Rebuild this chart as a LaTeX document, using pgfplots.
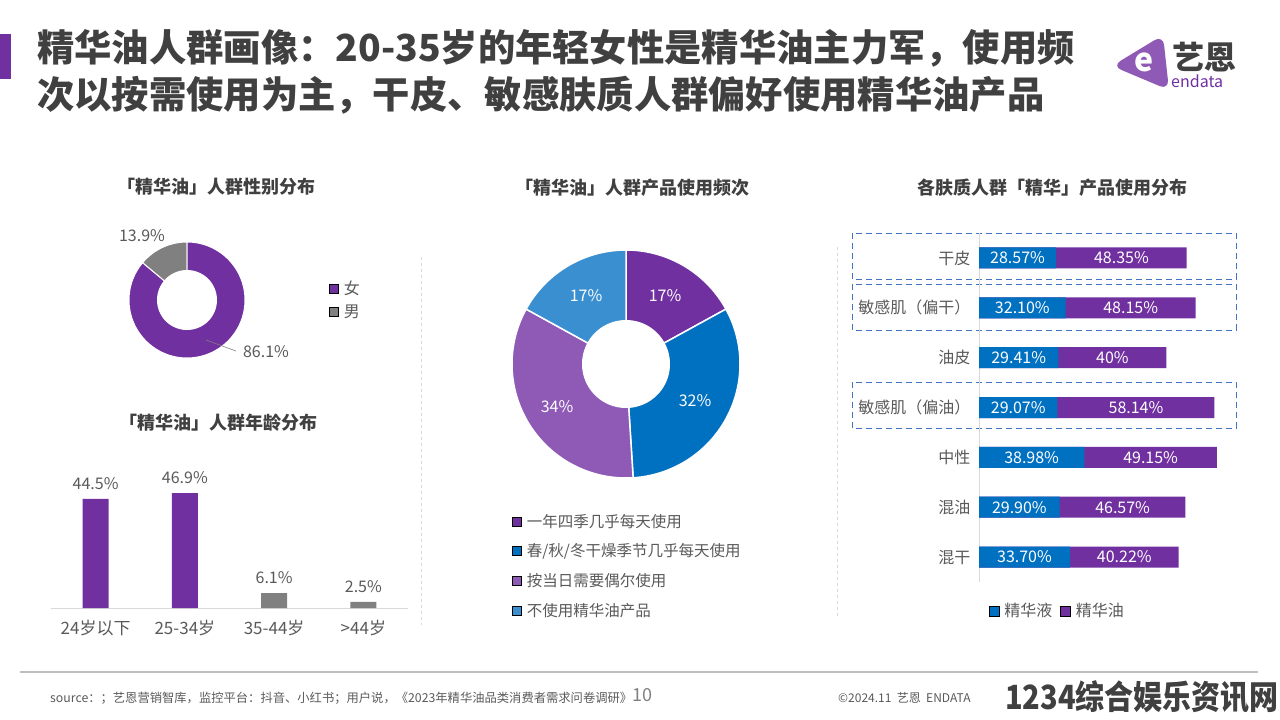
\documentclass[border=0pt]{standalone}
\usepackage{fontspec}
\setmainfont{Noto Sans CJK SC}
\usepackage{pgfplots}
\pgfplotsset{compat=1.18}
\usepackage{pgfplotstable}
\definecolor{pur}{HTML}{7030A0}
\definecolor{gry}{HTML}{808080}
\definecolor{blu}{HTML}{0070C0}
\definecolor{lpur}{HTML}{8E5AB5}
\definecolor{lblu}{HTML}{3A8FD1}
\definecolor{txt}{HTML}{404040}
\definecolor{lab}{HTML}{595959}
\definecolor{lgray}{HTML}{D9D9D9}
\definecolor{fgray}{HTML}{BFBFBF}
\definecolor{dashb}{HTML}{4472C4}
\newcommand\fs[1]{\fontsize{#1}{#1}\selectfont}
\pgfplotsset{/pgf/number format/assume math mode=true}
\pgfplotstableread{
idx serum oil
0 28.57 48.35
1 32.10 48.15
2 29.41 40
3 29.07 58.14
4 38.98 49.15
5 29.90 46.57
6 33.70 40.22
}\skin
\begin{document}
\begin{tikzpicture}
\useasboundingbox (0pt,0pt) rectangle (1280pt,-720pt);
% ---------- header ----------
\fill[pur] (0pt,-34pt) rectangle (11pt,-79pt);
\node[anchor=west, font=\fs{37.3}\bfseries, text=txt, inner sep=0pt] at (37pt,-48pt) {精华油人群画像：20-35岁的年轻女性是精华油主力军，使用频};
\node[anchor=west, font=\fs{37.3}\bfseries, text=txt, inner sep=0pt] at (37pt,-95pt) {次以按需使用为主，干皮、敏感肤质人群偏好使用精华油产品};
% logo
\fill[lpur, rounded corners=10pt] (1112pt,-66pt) -- (1163pt,-35pt) -- (1169pt,-90pt) -- cycle;
\node[font=\fs{32}\bfseries, text=white] at (1144pt,-62pt) {e};
\node[anchor=west, font=\fs{32}\bfseries, text=txt, inner sep=0pt] at (1172pt,-57pt) {艺恩};
\node[anchor=west, font=\fs{16}, text=pur, inner sep=0pt] at (1171pt,-81pt) {endata};
% ---------- separators ----------
\draw[lgray, dashed, line width=1pt] (421pt,-257pt) -- (421pt,-625pt);
\draw[lgray, dashed, line width=1pt] (837pt,-247pt) -- (837pt,-617pt);
% ---------- section titles ----------
\node[font=\fs{18}\bfseries, text=txt] at (216pt,-187pt) {「精华油」人群性别分布};
\node[font=\fs{18}\bfseries, text=txt] at (218pt,-423pt) {「精华油」人群年龄分布};
\node[font=\fs{18}\bfseries, text=txt] at (632pt,-188pt) {「精华油」人群产品使用频次};
\node[font=\fs{18}\bfseries, text=txt] at (1052pt,-188pt) {各肤质人群「精华」产品使用分布};
% ---------- gender donut ----------
\begin{axis}[at={(187pt,-300pt)}, anchor=center, width=116pt, height=116pt, scale only axis,
  xmin=-1, xmax=1, ymin=-1, ymax=1, hide axis, clip=false,
  legend image code/.code={\fill[#1] (0pt,-4.5pt) rectangle (9pt,4.5pt);},
  legend style={draw=none, fill=none, at={(1.70,0.5)}, anchor=west, font=\fs{16}, text=lab, row sep=5pt,
    /tikz/every odd column/.append style={column sep=3pt}},
  legend cell align=left]
\addplot[fill=gry, draw=white, line width=1pt, domain=90:140.04, samples=40, forget plot] ({cos(x)},{sin(x)}) -- (axis cs:0,0) -- cycle;
\addplot[fill=pur, draw=white, line width=1pt, domain=-219.96:90, samples=120, forget plot] ({cos(x)},{sin(x)}) -- (axis cs:0,0) -- cycle;
\addplot[fill=white, draw=none, domain=0:360, samples=90, forget plot] ({0.517*cos(x)},{0.517*sin(x)}) -- cycle;
\addlegendimage{fill=pur}\addlegendentry{女}
\addlegendimage{fill=gry}\addlegendentry{男}
\end{axis}
\node[font=\fs{16}, text=lab] at (142pt,-236pt) {13.9\%};
\node[font=\fs{16}, text=lab] at (266pt,-352pt) {86.1\%};
\draw[gry, line width=0.6pt] (206pt,-340pt) -- (236pt,-351pt);
% ---------- age bars ----------
\begin{axis}[at={(51pt,-608pt)}, anchor=south west, width=357pt, height=122.5pt, scale only axis,
  xmin=-0.5, xmax=3.5, ymin=0, ymax=50,
  axis x line=bottom, axis y line=none, axis line style={-, draw=lgray, line width=1pt},
  xtick={0,1,2,3}, xticklabels={24岁以下,25-34岁,35-44岁,>44岁},
  major tick length=0pt,
  xticklabel style={font=\fs{17}, text=lab, yshift=-9pt},
  ybar, bar width=26pt, bar shift=0pt, clip=false,
  nodes near coords={\pgfmathprintnumber[fixed,precision=1,fixed zerofill]{\pgfplotspointmeta}\%},
  every node near coord/.append style={font=\fs{16}, text=lab, yshift=6pt}]
\addplot[fill=pur, draw=none] coordinates {(0,44.5) (1,46.9)};
\addplot[fill=gry, draw=none] coordinates {(2,6.1) (3,2.5)};
\end{axis}
% ---------- frequency pie ----------
\begin{axis}[at={(626pt,-364pt)}, anchor=center, width=228pt, height=228pt, scale only axis,
  xmin=-1, xmax=1, ymin=-1, ymax=1, hide axis, clip=false,
  legend image code/.code={\fill[#1] (0pt,-4.5pt) rectangle (9pt,4.5pt);},
  legend style={draw=none, fill=none, at={(-0.012,-0.14)}, anchor=north west, font=\fs{15.5}, text=lab, row sep=11pt,
    /tikz/every odd column/.append style={column sep=3pt}},
  legend cell align=left]
\addplot[fill=pur, draw=white, line width=1.5pt, domain=28.8:90, samples=50, forget plot] ({cos(x)},{sin(x)}) -- (axis cs:0,0) -- cycle;
\addplot[fill=blu, draw=white, line width=1.5pt, domain=-86.4:28.8, samples=80, forget plot] ({cos(x)},{sin(x)}) -- (axis cs:0,0) -- cycle;
\addplot[fill=lpur, draw=white, line width=1.5pt, domain=-208.8:-86.4, samples=80, forget plot] ({cos(x)},{sin(x)}) -- (axis cs:0,0) -- cycle;
\addplot[fill=lblu, draw=white, line width=1.5pt, domain=-270:-208.8, samples=50, forget plot] ({cos(x)},{sin(x)}) -- (axis cs:0,0) -- cycle;
\addplot[fill=white, draw=none, domain=0:360, samples=90, forget plot] ({0.386*cos(x)},{0.386*sin(x)}) -- cycle;
\addlegendimage{fill=pur}\addlegendentry{一年四季几乎每天使用}
\addlegendimage{fill=blu}\addlegendentry{春/秋/冬干燥季节几乎每天使用}
\addlegendimage{fill=lpur}\addlegendentry{按当日需要偶尔使用}
\addlegendimage{fill=lblu}\addlegendentry{不使用精华油产品}
\end{axis}
\node[font=\fs{16}, text=white] at (665pt,-296pt) {17\%};
\node[font=\fs{16}, text=white] at (695pt,-401pt) {32\%};
\node[font=\fs{16}, text=white] at (557pt,-407pt) {34\%};
\node[font=\fs{16}, text=white] at (586pt,-296pt) {17\%};
% ---------- skin type bars ----------
\draw[dashb, line width=1pt, dash pattern=on 6pt off 4pt] (852pt,-233pt) rectangle (1236pt,-279pt);
\draw[dashb, line width=1pt, dash pattern=on 6pt off 4pt] (852pt,-284pt) rectangle (1236pt,-330pt);
\draw[dashb, line width=1pt, dash pattern=on 6pt off 4pt] (852pt,-382pt) rectangle (1236pt,-428pt);
\begin{axis}[at={(979pt,-233pt)}, anchor=north west, width=270pt, height=349pt, scale only axis,
  xmin=0, xmax=100, ymin=-0.5, ymax=6.5, y dir=reverse,
  axis x line=none, axis y line=left, axis line style={-, draw=lgray, line width=1pt},
  ytick={0,1,2,3,4,5,6},
  yticklabels={干皮,敏感肌（偏干）,油皮,敏感肌（偏油）,中性,混油,混干},
  major tick length=0pt,
  yticklabel style={font=\fs{16}, text=lab, xshift=-5pt},
  clip=false,
  legend image code/.code={\fill[#1] (0pt,-5pt) rectangle (10pt,5pt);},
  legend style={draw=none, fill=none, at={(0.025,-0.083)}, anchor=west, font=\fs{16}, text=lab,
    /tikz/every odd column/.append style={column sep=3pt},
    /tikz/every even column/.append style={column sep=6pt}},
  legend columns=2]
\addplot[xbar, fill=pur, draw=none, bar width=21pt, bar shift=0pt, forget plot] table[x expr=\thisrow{serum}+\thisrow{oil}, y=idx] {\skin};
\addplot[xbar, fill=blu, draw=none, bar width=21pt, bar shift=0pt, forget plot] table[x=serum, y=idx] {\skin};
\addplot[draw=none, mark=none, forget plot, point meta=explicit symbolic,
  nodes near coords={\pgfplotspointmeta\%}, nodes near coords align=center,
  every node near coord/.append style={font=\fs{16}, text=white}]
  table[x expr=\thisrow{serum}/2, y=idx, meta=serum] {\skin};
\addplot[draw=none, mark=none, forget plot, point meta=explicit symbolic,
  nodes near coords={\pgfplotspointmeta\%}, nodes near coords align=center,
  every node near coord/.append style={font=\fs{16}, text=white}]
  table[x expr=\thisrow{serum}+\thisrow{oil}/2, y=idx, meta=oil] {\skin};
\addlegendimage{fill=blu}\addlegendentry{精华液}
\addlegendimage{fill=pur}\addlegendentry{精华油}
\end{axis}
% ---------- footer ----------
\draw[fgray, line width=1.5pt] (20pt,-672pt) -- (1258pt,-672pt);
\node[anchor=west, font=\fs{12.3}, text=lab, inner sep=0pt] at (50pt,-698pt) {source：；艺恩营销智库，监控平台：抖音、小红书；用户说，《2023年精华油品类消费者需求问卷调研》};
\node[anchor=west, font=\fs{18}, text=gry, inner sep=0pt] at (632pt,-695pt) {10};
\node[anchor=west, font=\fs{12}, text=lab, inner sep=0pt] at (838pt,-698pt) {©2024.11\ \ 艺恩\ \ ENDATA};
\node[anchor=east, font=\fs{29}\bfseries, text=txt, inner sep=0pt, yscale=1.15] at (1279pt,-697pt) {1234综合娱乐资讯网};
\end{tikzpicture}
\end{document}
